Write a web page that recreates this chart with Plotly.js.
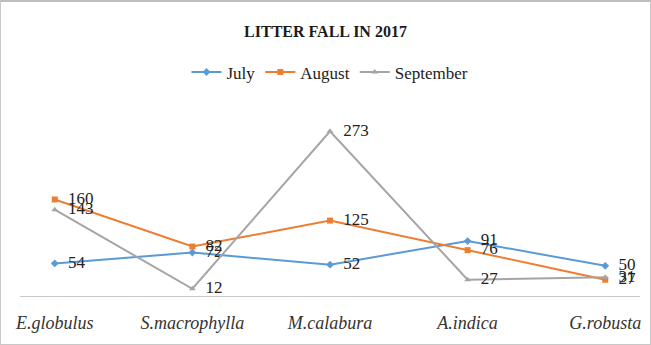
<!DOCTYPE html>
<html><head><meta charset="utf-8">
<script src="https://cdn.plot.ly/plotly-3.0.1.min.js"></script>
<style>html,body{margin:0;padding:0;background:#fff}#c{width:651px;height:345px;box-sizing:border-box;border:1px solid #c8c8c8;border-top:2px solid #bdbdbd}</style>
</head><body><div id="c"></div>
<script>
const categories = ["E.globulus", "S.macrophylla", "M.calabura", "A.indica", "G.robusta"];
const july = [54, 72, 52, 91, 50];
const august = [160, 82, 125, 76, 27];
const september = [143, 12, 273, 27, 31];

const serif = "Liberation Serif, Times New Roman, serif";
function tr(name, y, color, symbol) {
  return {
    x: categories, y: y, name: name, type: "scatter", mode: "lines+markers+text",
    line: {color: color, width: 2},
    marker: {color: color, symbol: symbol, size: 6},
    text: y.map(v => "\u2002" + v), textposition: "middle right",
    textfont: {family: serif, size: 17, color: "#222"},
    cliponaxis: false
  };
}
const data = [
  tr("July", july, "#5B9BD5", "diamond"),
  tr("August", august, "#ED7D31", "square"),
  tr("September", september, "#A5A5A5", "triangle-up")
];
const layout = {
  width: 649, height: 342,
  margin: {l: 19, r: 10, t: 113, b: 48},
  paper_bgcolor: "#fff", plot_bgcolor: "#fff",
  title: {text: "<b>LITTER FALL IN 2017</b>", x: 0.5, xanchor: "center", y: 0.915, yanchor: "middle",
          font: {family: serif, size: 16, color: "#1a1a1a"}},
  showlegend: true,
  legend: {orientation: "h", x: 0.5, xanchor: "center", y: 1.235, yanchor: "middle",
           font: {family: serif, size: 17, color: "#222"}, traceorder: "normal"},
  xaxis: {type: "category", showline: true, linecolor: "#c8c8c8", linewidth: 1, showgrid: false,
          ticks: "", ticklabelstandoff: 10,
          tickfont: {family: serif, size: 18, style: "italic", color: "#333"}, fixedrange: true},
  yaxis: {range: [0, 300], visible: false, showgrid: false, zeroline: false, fixedrange: true}
};
Plotly.newPlot("c", data, layout, {displayModeBar: false, staticPlot: true});
</script></body></html>
